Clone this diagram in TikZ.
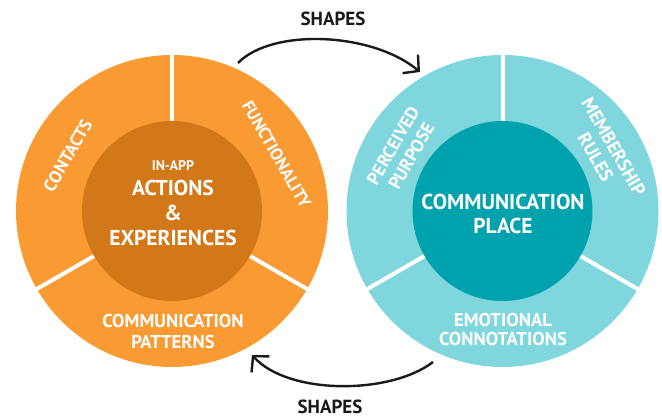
\documentclass[tikz,border=0pt]{standalone}
\usepackage{fontspec}
\setmainfont{PT Sans}
\usetikzlibrary{arrows.meta,calc}
\definecolor{orOut}{HTML}{F99A33}
\definecolor{orIn}{HTML}{D37818}
\definecolor{tlOut}{HTML}{80D6DD}
\definecolor{tlIn}{HTML}{00A2AE}
\definecolor{ink}{HTML}{1A1A1A}
\tikzset{
  ring/.style={circle, inner sep=0pt, minimum size=312pt},
  core/.style={circle, inner sep=0pt, minimum size=180pt},
  divider/.style={white, line width=4pt},
  lbl/.style={text=white, font=\bfseries\fontsize{18.6}{21}\selectfont, align=center, inner sep=0pt},
  biglbl/.style={text=white, font=\bfseries\fontsize{21.5}{24}\selectfont, align=center, inner sep=0pt},
  arrowlbl/.style={text=ink, font=\bfseries\fontsize{19}{20}\selectfont, inner sep=0pt},
  flow/.style={ink, line width=2.4pt, -{Straight Barb[length=11pt,width=24pt,line width=2.4pt]}},
}
\begin{document}
\begin{tikzpicture}[x=1pt,y=1pt]
\useasboundingbox (0,0) rectangle (662,418);
% left circle
\node[ring, fill=orOut] (L) at (172,207) {};
\foreach \a in {90,210,330} \draw[divider] (L.center) -- ++(\a:160);
\node[core, fill=orIn] (Lc) at (L.center) {};
% right circle
\node[ring, fill=tlOut] (R) at (502.5,207) {};
\foreach \a in {90,210,330} \draw[divider] (R.center) -- ++(\a:160);
\node[core, fill=tlIn] (Rc) at (R.center) {};
% left texts
\node[lbl, font=\bfseries\fontsize{14}{15}\selectfont] (inapp) at (173,252) {IN-APP};
\node[biglbl] (actions) at (173,230) {ACTIONS};
\node[biglbl] (amp) at (173,205) {\&};
\node[biglbl] (exper) at (173,180) {EXPERIENCES};
\node[lbl, rotate=60, font=\bfseries\fontsize{17.6}{20}\selectfont] (contacts) at ($(L.center)+(152:118)$) {CONTACTS};
\node[lbl, rotate=-60, font=\bfseries\fontsize{17.2}{20}\selectfont] (func) at ($(L.center)+(28.5:119)$) {FUNCTIONALITY};
\node[lbl] (commpat) at (173,87) {COMMUNICATION\\PATTERNS};
% right texts
\node[biglbl] (place) at (503,204) {COMMUNICATION\\PLACE};
\node[lbl, rotate=60, font=\bfseries\fontsize{18}{21}\selectfont] (purpose) at ($(R.center)+(149:117)$) {PERCEIVED\\PURPOSE};
\node[lbl, rotate=-60, font=\bfseries\fontsize{18.6}{21}\selectfont] (rules) at ($(R.center)+(30:118)$) {MEMBERSHIP\\RULES};
\node[lbl, font=\bfseries\fontsize{18.6}{19.5}\selectfont] (emo) at (503,88.5) {EMOTIONAL\\CONNOTATIONS};
% arrows
\coordinate (a1) at (238,355);
\coordinate (b1) at (420,346);
\coordinate (a2) at (433,56);
\coordinate (b2) at (252,63);
\draw[flow] (a1) .. controls (272,390) and (372,386) .. (b1);
\draw[flow] (a2) .. controls (390,23) and (288,23) .. (b2);
\node[arrowlbl] (shapes1) at (333,399) {SHAPES};
\node[arrowlbl] (shapes2) at (330,11) {SHAPES};
\end{tikzpicture}
\end{document}
